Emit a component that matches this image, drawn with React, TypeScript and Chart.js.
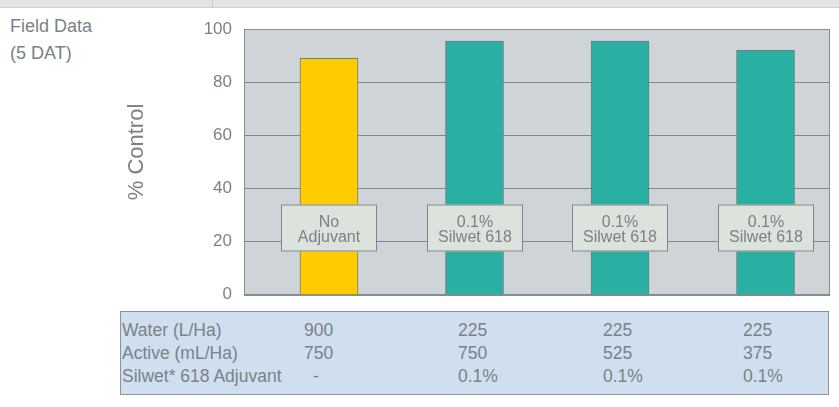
import React, { useEffect, useRef } from "react";
import { Chart, registerables } from "chart.js";

Chart.register(...registerables);

// ---- data ----
const categoryLines: string[][] = [
  ["No", "Adjuvant"],
  ["0.1%", "Silwet 618"],
  ["0.1%", "Silwet 618"],
  ["0.1%", "Silwet 618"],
];
const controlValues = [89, 95.5, 95.5, 92];
const barColors = ["#ffcc00", "#2aafa3", "#2aafa3", "#2aafa3"];
const yMin = 0;
const yMax = 100;
const yStep = 20;
const yAxisTitle = "% Control";
const sideNote = ["Field Data", "(5 DAT)"];
const tableRowLabels = ["Water (L/Ha)", "Active (mL/Ha)", "Silwet* 618 Adjuvant"];
const waterValues = ["900", "225", "225", "225"];
const activeValues = ["750", "750", "525", "375"];
const adjuvantValues = ["-", "0.1%", "0.1%", "0.1%"];
const labelBoxValue = 25;

// ---- layout / style ----
const FONT = "'Liberation Sans', Arial, Helvetica, sans-serif";
const TEXT_GRAY = "#7a8285";
const GRID_GRAY = "#7f888a";
const tableColX = [304, 458, 603, 743];
const tableDashX = 313;
const tableRowTop = [322, 345, 368];

const decorPlugin = {
  id: "decor",
  beforeDraw(chart: any) {
    const { ctx, chartArea: a } = chart;
    ctx.save();
    ctx.fillStyle = "#cfd4d8";
    ctx.fillRect(a.left, a.top, a.right - a.left, a.bottom - a.top);
    ctx.restore();
  },
  afterDatasetsDraw(chart: any) {
    const { ctx } = chart;
    const xs = chart.scales.x;
    const ys = chart.scales.y;
    const bw = 96;
    const bh = 47;
    ctx.save();
    categoryLines.forEach((lines, i) => {
      const cx = Math.round(xs.getPixelForValue(i));
      const cy = Math.round(ys.getPixelForValue(labelBoxValue));
      const x0 = cx - bw / 2;
      const y0 = cy - bh / 2;
      ctx.fillStyle = "#dce3dd";
      ctx.fillRect(x0, y0, bw, bh);
      ctx.strokeStyle = "#7d8788";
      ctx.lineWidth = 1;
      ctx.strokeRect(x0 + 0.5, y0 + 0.5, bw - 1, bh - 1);
      ctx.fillStyle = TEXT_GRAY;
      ctx.font = `16px ${FONT}`;
      ctx.textAlign = "center";
      ctx.textBaseline = "alphabetic";
      ctx.fillText(lines[0], cx, cy - 1.5);
      ctx.fillText(lines[1], cx, cy + 13.5);
    });
    ctx.restore();
  },
  afterDraw(chart: any) {
    const { ctx, chartArea: a } = chart;
    ctx.save();
    ctx.strokeStyle = "#878f92";
    ctx.lineWidth = 1;
    ctx.strokeRect(Math.round(a.left) + 0.5, Math.round(a.top) + 0.5, Math.round(a.right - a.left) - 1, Math.round(a.bottom - a.top));
    ctx.translate(137, 152);
    ctx.rotate(-Math.PI / 2);
    ctx.fillStyle = TEXT_GRAY;
    ctx.font = `22px ${FONT}`;
    ctx.textAlign = "center";
    ctx.textBaseline = "middle";
    ctx.fillText(yAxisTitle, 0, 0);
    ctx.restore();
  },
};

export default function App() {
  const canvasRef = useRef<HTMLCanvasElement | null>(null);

  useEffect(() => {
    if (!canvasRef.current) return;
    const chart = new Chart(canvasRef.current, {
      type: "bar",
      data: {
        datasets: [
          {
            data: controlValues.map((v, i) => ({ x: i, y: v })),
            backgroundColor: barColors,
            borderColor: "#6f7c80",
            borderWidth: 1,
            barThickness: 58,
          } as any,
        ],
      },
      options: {
        animation: false,
        responsive: false,
        maintainAspectRatio: false,
        layout: { padding: { left: 0, top: 29, right: 9, bottom: 0 } },
        plugins: { legend: { display: false }, tooltip: { enabled: false } },
        scales: {
          x: {
            type: "linear",
            min: -0.584,
            max: 3.443,
            offset: false,
            display: false,
          },
          y: {
            min: yMin,
            max: yMax,
            afterFit: (s: any) => {
              s.width = 244;
            },
            ticks: {
              stepSize: yStep,
              color: TEXT_GRAY,
              font: { size: 17, family: FONT },
              padding: 12,
            },
            grid: { color: GRID_GRAY, lineWidth: 1, drawTicks: false },
            border: { display: false },
          },
        },
      },
      plugins: [decorPlugin],
    });
    return () => chart.destroy();
  }, []);

  const textStyle: React.CSSProperties = {
    position: "absolute",
    fontFamily: FONT,
    fontSize: "17.5px",
    lineHeight: 1,
    color: TEXT_GRAY,
    whiteSpace: "nowrap",
  };
  const tableCols = [waterValues, activeValues, adjuvantValues];

  return (
    <div style={{ position: "absolute", left: 0, top: 0, width: 839, height: 407, overflow: "hidden", background: "#fff" }}>
      <div style={{ position: "absolute", left: 0, top: 0, width: 839, height: 7, background: "#e2e5e8", borderBottom: "1px solid #cdd1d4" }} />
      <div style={{ position: "absolute", left: 212, top: 0, width: 1, height: 7, background: "#c4c8cb" }} />
      {sideNote.map((t, i) => (
        <div key={t} style={{ ...textStyle, fontSize: "18px", left: 10, top: 17 + i * 27 }}>
          {t}
        </div>
      ))}
      <canvas ref={canvasRef} width={839} height={317} style={{ position: "absolute", left: 0, top: 0, width: 839, height: 317 }} />
      <div
        style={{
          position: "absolute",
          left: 120,
          top: 311,
          width: 709,
          height: 84,
          boxSizing: "border-box",
          background: "#cfdff0",
          border: "1px solid #8c9496",
        }}
      />
      {tableRowLabels.map((lab, r) => (
        <React.Fragment key={lab}>
          <div style={{ ...textStyle, left: 122, top: tableRowTop[r] }}>{lab}</div>
          {tableCols[r].map((v, c) => (
            <div
              key={c}
              style={{ ...textStyle, left: v === "-" ? tableDashX : tableColX[c], top: tableRowTop[r] }}
            >
              {v}
            </div>
          ))}
        </React.Fragment>
      ))}
    </div>
  );
}
